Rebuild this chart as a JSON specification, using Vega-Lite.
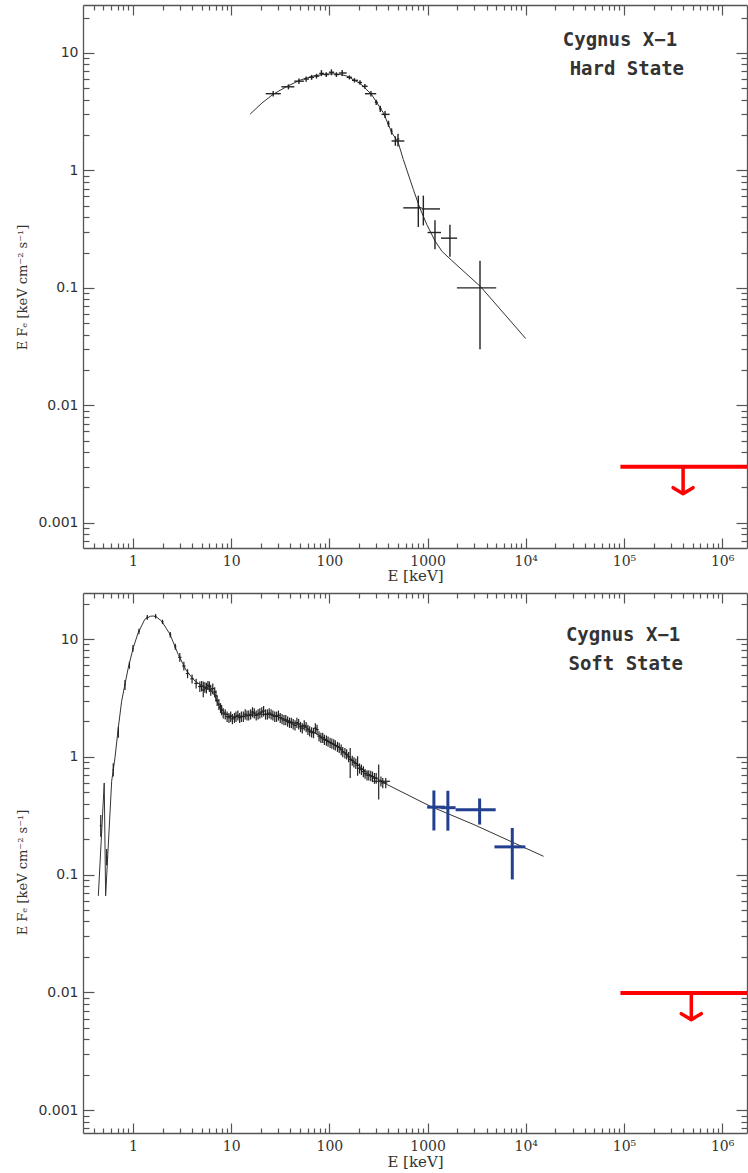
{
"$schema":"https://vega.github.io/schema/vega-lite/v6.json",
"padding":{"left":16,"top":4,"right":0,"bottom":0},
"bounds":"flush",
"spacing":45,
"config":{"view":{"stroke":null},"axis":{"grid":false}},
"datasets":{"d":[
{"p":"h","k":"m","E":15.6,"F":3.01},{"p":"h","k":"m","E":20.6,"F":3.75},{"p":"h","k":"m","E":26.8,"F":4.45},{"p":"h","k":"m","E":36.7,"F":5.17},{"p":"h","k":"m","E":50.1,"F":5.86},{"p":"h","k":"m","E":68.5,"F":6.37},{"p":"h","k":"m","E":90,"F":6.6},{"p":"h","k":"m","E":109.5,"F":6.65},{"p":"h","k":"m","E":130,"F":6.55},{"p":"h","k":"m","E":150,"F":6.37},{"p":"h","k":"m","E":205,"F":5.52},{"p":"h","k":"m","E":268,"F":4.45},{"p":"h","k":"m","E":354,"F":3.1},{"p":"h","k":"m","E":432,"F":2.1},{"p":"h","k":"m","E":502,"F":1.73},{"p":"h","k":"m","E":566,"F":1.24},{"p":"h","k":"m","E":716,"F":0.69},{"p":"h","k":"m","E":833,"F":0.48},{"p":"h","k":"m","E":980,"F":0.348},{"p":"h","k":"m","E":1190,"F":0.251},{"p":"h","k":"m","E":1400,"F":0.205},{"p":"h","k":"m","E":1750,"F":0.172},{"p":"h","k":"m","E":3480,"F":0.102},{"p":"h","k":"m","E":10000,"F":0.037},
{"p":"h","k":"d","E":26.8,"F":4.5,"E1":22.5,"E2":32,"F1":4.25,"F2":4.75},
{"p":"h","k":"d","E":38.3,"F":5.15,"E1":32.5,"E2":44,"F1":4.9,"F2":5.4},
{"p":"h","k":"d","E":49,"F":5.75,"E1":44,"E2":55,"F1":5.45,"F2":6.05},
{"p":"h","k":"d","E":58,"F":6.0,"E1":55,"E2":62,"F1":5.7,"F2":6.3},
{"p":"h","k":"d","E":66,"F":6.2,"E1":62,"E2":70,"F1":5.9,"F2":6.5},
{"p":"h","k":"d","E":74,"F":6.35,"E1":70,"E2":79,"F1":6.05,"F2":6.65},
{"p":"h","k":"d","E":83,"F":6.7,"E1":79,"E2":88,"F1":6.35,"F2":7.15},
{"p":"h","k":"d","E":93,"F":6.55,"E1":88,"E2":99,"F1":6.25,"F2":6.85},
{"p":"h","k":"d","E":105,"F":6.85,"E1":99,"E2":112,"F1":6.45,"F2":7.25},
{"p":"h","k":"d","E":118,"F":6.55,"E1":112,"E2":125,"F1":6.25,"F2":6.85},
{"p":"h","k":"d","E":135,"F":6.75,"E1":125,"E2":150,"F1":6.35,"F2":7.15},
{"p":"h","k":"d","E":160,"F":6.2,"E1":150,"E2":170,"F1":5.95,"F2":6.45},
{"p":"h","k":"d","E":180,"F":5.85,"E1":170,"E2":195,"F1":5.6,"F2":6.1},
{"p":"h","k":"d","E":205,"F":5.6,"E1":195,"E2":215,"F1":5.35,"F2":5.85},
{"p":"h","k":"d","E":230,"F":5.2,"E1":215,"E2":245,"F1":4.95,"F2":5.45},
{"p":"h","k":"d","E":265,"F":4.5,"E1":230,"E2":300,"F1":4.25,"F2":4.75},
{"p":"h","k":"d","E":300,"F":3.8,"E1":290,"E2":312,"F1":3.6,"F2":4.0},
{"p":"h","k":"d","E":330,"F":3.35,"E1":320,"E2":340,"F1":3.15,"F2":3.55},
{"p":"h","k":"d","E":369,"F":3.0,"E1":340,"E2":410,"F1":2.8,"F2":3.2},
{"p":"h","k":"d","E":400,"F":2.5,"E1":390,"E2":410,"F1":2.35,"F2":2.65},
{"p":"h","k":"d","E":430,"F":2.15,"E1":420,"E2":440,"F1":2.02,"F2":2.28},
{"p":"h","k":"d","E":470,"F":1.78,"E1":430,"E2":580,"F1":1.62,"F2":1.95},
{"p":"h","k":"d","E":500,"F":1.85,"E1":490,"E2":515,"F1":1.6,"F2":2.05},
{"p":"h","k":"d","E":805,"F":0.48,"E1":566,"E2":870,"F1":0.33,"F2":0.61},
{"p":"h","k":"d","E":906,"F":0.47,"E1":870,"E2":1340,"F1":0.34,"F2":0.61},
{"p":"h","k":"d","E":1190,"F":0.296,"E1":1000,"E2":1370,"F1":0.213,"F2":0.377},
{"p":"h","k":"d","E":1690,"F":0.265,"E1":1370,"E2":2000,"F1":0.184,"F2":0.344},
{"p":"h","k":"d","E":3420,"F":0.1,"E1":1990,"E2":5000,"F1":0.03,"F2":0.17},
{"p":"h","k":"u","E":400000,"F":0.003,"E1":92000,"E2":1790000,"Ft":0.00177},
{"p":"h","k":"t","E":91000,"F":12.9,"label":"Cygnus X\u22121"},
{"p":"h","k":"t","E":107000,"F":7.3,"label":"Hard State"},
{"p":"s","k":"m","E":0.444,"F":0.066},{"p":"s","k":"m","E":0.51,"F":0.6},{"p":"s","k":"m","E":0.527,"F":0.066},{"p":"s","k":"m","E":0.607,"F":0.62},{"p":"s","k":"m","E":0.656,"F":0.98},{"p":"s","k":"m","E":0.709,"F":1.76},{"p":"s","k":"m","E":0.767,"F":2.97},{"p":"s","k":"m","E":0.829,"F":4.12},{"p":"s","k":"m","E":0.896,"F":5.7},{"p":"s","k":"m","E":1.007,"F":8.44},{"p":"s","k":"m","E":1.13,"F":11.3},{"p":"s","k":"m","E":1.32,"F":14.7},{"p":"s","k":"m","E":1.5,"F":15.6},{"p":"s","k":"m","E":1.61,"F":15.7},{"p":"s","k":"m","E":1.75,"F":15.3},{"p":"s","k":"m","E":1.96,"F":14.2},{"p":"s","k":"m","E":2.38,"F":11.0},{"p":"s","k":"m","E":2.89,"F":7.41},{"p":"s","k":"m","E":3.38,"F":5.7},{"p":"s","k":"m","E":3.52,"F":5.35},{"p":"s","k":"m","E":4.28,"F":4.4},{"p":"s","k":"m","E":4.8,"F":4.12},{"p":"s","k":"m","E":5.41,"F":3.8},{"p":"s","k":"m","E":6.08,"F":3.75},{"p":"s","k":"m","E":6.8,"F":3.3},{"p":"s","k":"m","E":7.7,"F":2.6},{"p":"s","k":"m","E":9.0,"F":2.3},{"p":"s","k":"m","E":10.5,"F":2.2},{"p":"s","k":"m","E":14.4,"F":2.22},{"p":"s","k":"m","E":19.6,"F":2.3},{"p":"s","k":"m","E":26.9,"F":2.27},{"p":"s","k":"m","E":39.6,"F":2.01},{"p":"s","k":"m","E":58.6,"F":1.76},{"p":"s","k":"m","E":86.6,"F":1.45},{"p":"s","k":"m","E":128,"F":1.19},{"p":"s","k":"m","E":176,"F":0.92},{"p":"s","k":"m","E":259,"F":0.7},{"p":"s","k":"m","E":318,"F":0.64},{"p":"s","k":"m","E":390,"F":0.58},{"p":"s","k":"m","E":1070,"F":0.38},{"p":"s","k":"m","E":2960,"F":0.266},{"p":"s","k":"m","E":7580,"F":0.186},{"p":"s","k":"m","E":15200,"F":0.143},
{"p":"s","k":"d","E":0.47,"F":0.26,"E1":0.46,"E2":0.48,"F1":0.21,"F2":0.32},
{"p":"s","k":"d","E":0.54,"F":0.14,"E1":0.53,"E2":0.55,"F1":0.12,"F2":0.165},
{"p":"s","k":"d","E":0.63,"F":0.78,"E1":0.62,"E2":0.64,"F1":0.68,"F2":0.88},
{"p":"s","k":"d","E":0.71,"F":1.62,"E1":0.7,"E2":0.72,"F1":1.45,"F2":1.8},
{"p":"s","k":"d","E":0.83,"F":4.1,"E1":0.82,"E2":0.84,"F1":3.7,"F2":4.5},
{"p":"s","k":"d","E":0.92,"F":6.0,"E1":0.91,"E2":0.93,"F1":5.6,"F2":6.4},
{"p":"s","k":"d","E":1.0,"F":8.3,"E1":0.99,"E2":1.01,"F1":7.8,"F2":8.9},
{"p":"s","k":"d","E":1.15,"F":11.6,"E1":1.13,"E2":1.17,"F1":11.0,"F2":12.2},
{"p":"s","k":"d","E":1.4,"F":15.3,"E1":1.37,"E2":1.43,"F1":14.6,"F2":16.0},
{"p":"s","k":"d","E":1.7,"F":15.6,"E1":1.66,"E2":1.74,"F1":14.9,"F2":16.3},
{"p":"s","k":"d","E":2.0,"F":14.0,"E1":1.95,"E2":2.05,"F1":13.4,"F2":14.6},
{"p":"s","k":"d","E":2.4,"F":10.9,"E1":2.34,"E2":2.46,"F1":10.3,"F2":11.5},
{"p":"s","k":"d","E":2.7,"F":8.6,"E1":2.63,"E2":2.77,"F1":8.1,"F2":9.1},
{"p":"s","k":"d","E":3.0,"F":7.0,"E1":2.88,"E2":3.12,"F1":6.4,"F2":7.6},
{"p":"s","k":"d","E":3.3,"F":5.9,"E1":3.17,"E2":3.43,"F1":5.4,"F2":6.4},
{"p":"s","k":"d","E":3.6,"F":5.1,"E1":3.46,"E2":3.74,"F1":4.65,"F2":5.55},
{"p":"s","k":"d","E":4.0,"F":4.6,"E1":3.84,"E2":4.16,"F1":4.2,"F2":5.0},
{"p":"s","k":"d","E":4.4,"F":4.2,"E1":4.22,"E2":4.58,"F1":3.8,"F2":4.6},
{"p":"s","k":"d","E":4.8,"F":3.95,"E1":4.61,"E2":4.99,"F1":3.55,"F2":4.35},
{"p":"s","k":"d","E":5.0,"F":4.0,"E1":4.8,"E2":5.2,"F1":3.6,"F2":4.4},
{"p":"s","k":"d","E":5.2,"F":3.7,"E1":4.99,"E2":5.41,"F1":3.2,"F2":4.36},
{"p":"s","k":"d","E":5.4,"F":3.9,"E1":5.18,"E2":5.62,"F1":3.5,"F2":4.3},
{"p":"s","k":"d","E":5.6,"F":3.85,"E1":5.38,"E2":5.82,"F1":3.45,"F2":4.25},
{"p":"s","k":"d","E":5.8,"F":4.05,"E1":5.57,"E2":6.03,"F1":3.7,"F2":4.4},
{"p":"s","k":"d","E":6.0,"F":3.95,"E1":5.76,"E2":6.24,"F1":3.55,"F2":4.35},
{"p":"s","k":"d","E":6.2,"F":3.7,"E1":5.95,"E2":6.45,"F1":3.3,"F2":4.1},
{"p":"s","k":"d","E":6.5,"F":3.8,"E1":6.24,"E2":6.76,"F1":3.4,"F2":4.2},
{"p":"s","k":"d","E":6.8,"F":3.55,"E1":6.53,"E2":7.07,"F1":3.2,"F2":3.9},
{"p":"s","k":"d","E":7.0,"F":3.3,"E1":6.72,"E2":7.28,"F1":2.95,"F2":3.65},
{"p":"s","k":"d","E":7.2,"F":3.0,"E1":6.91,"E2":7.49,"F1":2.7,"F2":3.3},
{"p":"s","k":"d","E":7.5,"F":2.8,"E1":7.2,"E2":7.8,"F1":2.5,"F2":3.1},
{"p":"s","k":"d","E":7.8,"F":2.6,"E1":7.49,"E2":8.11,"F1":2.35,"F2":2.85},
{"p":"s","k":"d","E":8.0,"F":2.5,"E1":7.68,"E2":8.32,"F1":2.25,"F2":2.75},
{"p":"s","k":"d","E":8.3,"F":2.35,"E1":7.97,"E2":8.63,"F1":2.12,"F2":2.58},
{"p":"s","k":"d","E":8.7,"F":2.3,"E1":8.35,"E2":9.05,"F1":2.07,"F2":2.53},
{"p":"s","k":"d","E":9.1,"F":2.2,"E1":8.74,"E2":9.46,"F1":1.98,"F2":2.42},
{"p":"s","k":"d","E":9.5,"F":2.15,"E1":9.12,"E2":9.88,"F1":1.94,"F2":2.36},
{"p":"s","k":"d","E":9.9,"F":2.2,"E1":9.5,"E2":10.3,"F1":1.98,"F2":2.42},
{"p":"s","k":"d","E":10.3,"F":2.1,"E1":9.89,"E2":10.71,"F1":1.89,"F2":2.31},
{"p":"s","k":"d","E":10.8,"F":2.15,"E1":10.37,"E2":11.23,"F1":1.94,"F2":2.36},
{"p":"s","k":"d","E":11.2,"F":2.2,"E1":10.75,"E2":11.65,"F1":1.98,"F2":2.42},
{"p":"s","k":"d","E":11.7,"F":2.25,"E1":11.23,"E2":12.17,"F1":2.03,"F2":2.47},
{"p":"s","k":"d","E":12.2,"F":2.15,"E1":11.71,"E2":12.69,"F1":1.94,"F2":2.36},
{"p":"s","k":"d","E":12.7,"F":2.2,"E1":12.19,"E2":13.21,"F1":1.98,"F2":2.42},
{"p":"s","k":"d","E":13.3,"F":2.2,"E1":12.77,"E2":13.83,"F1":1.98,"F2":2.42},
{"p":"s","k":"d","E":13.9,"F":2.3,"E1":13.34,"E2":14.46,"F1":2.07,"F2":2.53},
{"p":"s","k":"d","E":14.5,"F":2.25,"E1":13.92,"E2":15.08,"F1":2.03,"F2":2.47},
{"p":"s","k":"d","E":15.1,"F":2.25,"E1":14.5,"E2":15.7,"F1":2.03,"F2":2.47},
{"p":"s","k":"d","E":15.8,"F":2.3,"E1":15.17,"E2":16.43,"F1":2.07,"F2":2.53},
{"p":"s","k":"d","E":16.5,"F":2.4,"E1":15.84,"E2":17.16,"F1":2.16,"F2":2.64},
{"p":"s","k":"d","E":17.2,"F":2.35,"E1":16.51,"E2":17.89,"F1":2.12,"F2":2.58},
{"p":"s","k":"d","E":18.0,"F":2.25,"E1":17.28,"E2":18.72,"F1":2.03,"F2":2.47},
{"p":"s","k":"d","E":18.8,"F":2.3,"E1":18.05,"E2":19.55,"F1":2.07,"F2":2.53},
{"p":"s","k":"d","E":19.6,"F":2.35,"E1":18.82,"E2":20.38,"F1":2.12,"F2":2.58},
{"p":"s","k":"d","E":20.5,"F":2.4,"E1":19.68,"E2":21.32,"F1":2.16,"F2":2.64},
{"p":"s","k":"d","E":21.4,"F":2.45,"E1":20.54,"E2":22.26,"F1":2.2,"F2":2.7},
{"p":"s","k":"d","E":22.4,"F":2.3,"E1":21.5,"E2":23.3,"F1":2.07,"F2":2.53},
{"p":"s","k":"d","E":23.4,"F":2.3,"E1":22.46,"E2":24.34,"F1":2.07,"F2":2.53},
{"p":"s","k":"d","E":24.4,"F":2.35,"E1":23.42,"E2":25.38,"F1":2.12,"F2":2.58},
{"p":"s","k":"d","E":25.5,"F":2.3,"E1":24.48,"E2":26.52,"F1":2.07,"F2":2.53},
{"p":"s","k":"d","E":26.6,"F":2.25,"E1":25.54,"E2":27.66,"F1":2.03,"F2":2.47},
{"p":"s","k":"d","E":27.8,"F":2.2,"E1":26.69,"E2":28.91,"F1":1.98,"F2":2.42},
{"p":"s","k":"d","E":29,"F":2.2,"E1":27.84,"E2":30.16,"F1":1.98,"F2":2.42},
{"p":"s","k":"d","E":30.3,"F":2.25,"E1":29.09,"E2":31.51,"F1":2.03,"F2":2.47},
{"p":"s","k":"d","E":31.6,"F":2.15,"E1":30.34,"E2":32.86,"F1":1.94,"F2":2.36},
{"p":"s","k":"d","E":33,"F":2.1,"E1":31.68,"E2":34.32,"F1":1.89,"F2":2.31},
{"p":"s","k":"d","E":34.5,"F":2.05,"E1":33.12,"E2":35.88,"F1":1.85,"F2":2.26},
{"p":"s","k":"d","E":36,"F":2.05,"E1":34.56,"E2":37.44,"F1":1.85,"F2":2.26},
{"p":"s","k":"d","E":37.6,"F":2.0,"E1":36.1,"E2":39.1,"F1":1.8,"F2":2.2},
{"p":"s","k":"d","E":39.3,"F":1.95,"E1":37.73,"E2":40.87,"F1":1.76,"F2":2.15},
{"p":"s","k":"d","E":41,"F":1.95,"E1":39.36,"E2":42.64,"F1":1.76,"F2":2.15},
{"p":"s","k":"d","E":42.8,"F":1.9,"E1":41.09,"E2":44.51,"F1":1.71,"F2":2.09},
{"p":"s","k":"d","E":44.7,"F":1.85,"E1":42.91,"E2":46.49,"F1":1.67,"F2":2.04},
{"p":"s","k":"d","E":46.7,"F":1.95,"E1":44.83,"E2":48.57,"F1":1.76,"F2":2.15},
{"p":"s","k":"d","E":48.7,"F":1.9,"E1":46.75,"E2":50.65,"F1":1.71,"F2":2.09},
{"p":"s","k":"d","E":50.9,"F":1.8,"E1":48.86,"E2":52.94,"F1":1.62,"F2":1.98},
{"p":"s","k":"d","E":53,"F":1.75,"E1":50.88,"E2":55.12,"F1":1.58,"F2":1.93},
{"p":"s","k":"d","E":55.5,"F":1.85,"E1":53.28,"E2":57.72,"F1":1.67,"F2":2.04},
{"p":"s","k":"d","E":58,"F":1.8,"E1":55.68,"E2":60.32,"F1":1.62,"F2":1.98},
{"p":"s","k":"d","E":60.5,"F":1.7,"E1":58.08,"E2":62.92,"F1":1.53,"F2":1.87},
{"p":"s","k":"d","E":63,"F":1.65,"E1":60.48,"E2":65.52,"F1":1.49,"F2":1.82},
{"p":"s","k":"d","E":66,"F":1.62,"E1":63.36,"E2":68.64,"F1":1.46,"F2":1.78},
{"p":"s","k":"d","E":69,"F":1.6,"E1":66.24,"E2":71.76,"F1":1.44,"F2":1.76},
{"p":"s","k":"d","E":72,"F":1.75,"E1":69.12,"E2":74.88,"F1":1.58,"F2":1.93},
{"p":"s","k":"d","E":75,"F":1.7,"E1":72,"E2":78,"F1":1.53,"F2":1.87},
{"p":"s","k":"d","E":78.5,"F":1.5,"E1":75.36,"E2":81.64,"F1":1.35,"F2":1.65},
{"p":"s","k":"d","E":82,"F":1.45,"E1":78.72,"E2":85.28,"F1":1.31,"F2":1.6},
{"p":"s","k":"d","E":85.6,"F":1.45,"E1":82.18,"E2":89.02,"F1":1.31,"F2":1.6},
{"p":"s","k":"d","E":89,"F":1.4,"E1":85.44,"E2":92.56,"F1":1.26,"F2":1.54},
{"p":"s","k":"d","E":93.3,"F":1.38,"E1":89.57,"E2":97.03,"F1":1.24,"F2":1.52},
{"p":"s","k":"d","E":97,"F":1.35,"E1":93.12,"E2":100.88,"F1":1.22,"F2":1.49},
{"p":"s","k":"d","E":101.7,"F":1.32,"E1":97.63,"E2":105.77,"F1":1.19,"F2":1.45},
{"p":"s","k":"d","E":106,"F":1.3,"E1":101.76,"E2":110.24,"F1":1.17,"F2":1.43},
{"p":"s","k":"d","E":110.9,"F":1.28,"E1":106.46,"E2":115.34,"F1":1.15,"F2":1.41},
{"p":"s","k":"d","E":115,"F":1.25,"E1":110.4,"E2":119.6,"F1":1.13,"F2":1.38},
{"p":"s","k":"d","E":121,"F":1.22,"E1":116.16,"E2":125.84,"F1":1.1,"F2":1.34},
{"p":"s","k":"d","E":126,"F":1.2,"E1":120.96,"E2":131.04,"F1":1.08,"F2":1.32},
{"p":"s","k":"d","E":132,"F":1.15,"E1":126.72,"E2":137.28,"F1":1.03,"F2":1.27},
{"p":"s","k":"d","E":137,"F":1.1,"E1":131.5,"E2":142.5,"F1":0.99,"F2":1.21},
{"p":"s","k":"d","E":144,"F":1.08,"E1":138.2,"E2":149.8,"F1":0.97,"F2":1.19},
{"p":"s","k":"d","E":150,"F":1.05,"E1":144,"E2":156,"F1":0.95,"F2":1.16},
{"p":"s","k":"d","E":157,"F":1.0,"E1":150.7,"E2":163.3,"F1":0.9,"F2":1.1},
{"p":"s","k":"d","E":163,"F":0.95,"E1":156.5,"E2":169.5,"F1":0.66,"F2":1.19},
{"p":"s","k":"d","E":171,"F":0.93,"E1":164.2,"E2":177.8,"F1":0.84,"F2":1.02},
{"p":"s","k":"d","E":178,"F":0.9,"E1":170.9,"E2":185.1,"F1":0.81,"F2":0.99},
{"p":"s","k":"d","E":186,"F":0.88,"E1":178.6,"E2":193.4,"F1":0.79,"F2":0.97},
{"p":"s","k":"d","E":194,"F":0.85,"E1":186.2,"E2":201.8,"F1":0.69,"F2":1.01},
{"p":"s","k":"d","E":203,"F":0.8,"E1":194.9,"E2":211.1,"F1":0.72,"F2":0.88},
{"p":"s","k":"d","E":212,"F":0.78,"E1":203.5,"E2":220.5,"F1":0.7,"F2":0.86},
{"p":"s","k":"d","E":222,"F":0.75,"E1":213.1,"E2":230.9,"F1":0.67,"F2":0.83},
{"p":"s","k":"d","E":231,"F":0.72,"E1":221.8,"E2":240.2,"F1":0.65,"F2":0.79},
{"p":"s","k":"d","E":242,"F":0.7,"E1":232.3,"E2":251.7,"F1":0.63,"F2":0.77},
{"p":"s","k":"d","E":252,"F":0.7,"E1":241.9,"E2":262.1,"F1":0.63,"F2":0.77},
{"p":"s","k":"d","E":264,"F":0.69,"E1":253.4,"E2":274.6,"F1":0.62,"F2":0.76},
{"p":"s","k":"d","E":275,"F":0.68,"E1":264,"E2":286,"F1":0.61,"F2":0.75},
{"p":"s","k":"d","E":288,"F":0.66,"E1":276.5,"E2":299.5,"F1":0.59,"F2":0.73},
{"p":"s","k":"d","E":300,"F":0.66,"E1":288,"E2":312,"F1":0.59,"F2":0.73},
{"p":"s","k":"d","E":318,"F":0.62,"E1":280,"E2":415,"F1":0.435,"F2":0.86},
{"p":"s","k":"d","E":335,"F":0.62,"E1":321.6,"E2":348.4,"F1":0.56,"F2":0.68},
{"p":"s","k":"d","E":350,"F":0.6,"E1":336,"E2":364,"F1":0.54,"F2":0.66},
{"p":"s","k":"d","E":375,"F":0.6,"E1":360,"E2":390,"F1":0.54,"F2":0.66},
{"p":"s","k":"b","E":1160,"F":0.374,"E1":990,"E2":1500,"F1":0.237,"F2":0.518},
{"p":"s","k":"b","E":1610,"F":0.37,"E1":1360,"E2":1930,"F1":0.236,"F2":0.515},
{"p":"s","k":"b","E":3390,"F":0.355,"E1":1930,"E2":4940,"F1":0.266,"F2":0.443},
{"p":"s","k":"b","E":7290,"F":0.172,"E1":4800,"E2":9900,"F1":0.091,"F2":0.249},
{"p":"s","k":"u","E":485000,"F":0.0099,"E1":92000,"E2":1790000,"Ft":0.00587},
{"p":"s","k":"t","E":98000,"F":10.8,"label":"Cygnus X\u22121"},
{"p":"s","k":"t","E":104000,"F":6.1,"label":"Soft State"}
]},
"vconcat":[
{"width":664,"height":543,"data":{"name":"d"},"transform":[{"filter":"datum.p=='h'"}],
"resolve":{"axis":{"x":"independent","y":"independent"}},
"layer":[
{"transform":[{"filter":"datum.k=='m'"}],"mark":{"type":"line","color":"#333","strokeWidth":1,"clip":true},
"encoding":{"x":{"field":"E","type":"quantitative","scale":{"type":"log","domain":[0.31,1790000],"nice":false},
"axis":{"orient":"bottom","values":[0.4,0.5,0.6,0.7,0.8,0.9,1,2,3,4,5,6,7,8,9,10,20,30,40,50,60,70,80,90,100,200,300,400,500,600,700,800,900,1000,2000,3000,4000,5000,6000,7000,8000,9000,10000,20000,30000,40000,50000,60000,70000,80000,90000,100000,200000,300000,400000,500000,600000,700000,800000,900000,1000000],
"labelExpr":"datum.value==1?'1':datum.value==10?'10':datum.value==100?'100':datum.value==1000?'1000':datum.value==10000?'10\u2074':datum.value==100000?'10\u2075':datum.value==1000000?'10\u2076':''",
"labelOverlap":false,"labelFlush":false,"labelBound":false,"labelFont":"DejaVu Serif","labelFontSize":14,"labelColor":"#333","labelPadding":16,"labelBaseline":"top",
"tickSize":{"condition":{"test":"abs(log(datum.value)/LN10-round(log(datum.value)/LN10))<0.001","value":-10},"value":-5},
"tickColor":"#555","tickWidth":1.2,"domainColor":"#555","domainWidth":1.3,"grid":false,
"title":"E [keV]","titleFont":"DejaVu Serif","titleFontSize":15,"titleFontWeight":"normal","titleColor":"#333","titleY":20,"titleBaseline":"top"}},
"y":{"field":"F","type":"quantitative","scale":{"type":"log","domain":[0.00061,25.6],"nice":false},
"axis":{"orient":"left","values":[0.0007,0.0008,0.0009,0.001,0.002,0.003,0.004,0.005,0.006,0.007,0.008,0.009,0.01,0.02,0.03,0.04,0.05,0.06,0.07,0.08,0.09,0.1,0.2,0.3,0.4,0.5,0.6,0.7,0.8,0.9,1,2,3,4,5,6,7,8,9,10,20],
"labelExpr":"datum.value==10?'10':datum.value==1?'1':datum.value==0.1?'0.1':datum.value==0.01?'0.01':datum.value==0.001?'0.001':''",
"labelOverlap":false,"labelFlush":false,"labelBound":false,"labelFont":"DejaVu Sans","labelFontSize":14,"labelColor":"#333","labelPadding":16,
"tickSize":{"condition":{"test":"abs(log(datum.value)/LN10-round(log(datum.value)/LN10))<0.001","value":-11},"value":-6},
"tickColor":"#555","tickWidth":1.2,"domainColor":"#555","domainWidth":1.3,"grid":false,
"title":"E F\u2091 [keV cm\u207b\u00b2 s\u207b\u00b9]","titleFont":"DejaVu Serif","titleFontSize":13,"titleFontWeight":"normal","titleColor":"#333","titleX":-61,"titleY":282,"titleAngle":270,"titleBaseline":"middle","titleAlign":"center"}}}},
{"transform":[{"filter":"datum.k=='d'"}],"mark":{"type":"rule","color":"#222","strokeWidth":1.4},
"encoding":{"x":{"field":"E","type":"quantitative","scale":{"type":"log","domain":[0.31,1790000],"nice":false},
"axis":{"orient":"top","values":[0.4,0.5,0.6,0.7,0.8,0.9,1,2,3,4,5,6,7,8,9,10,20,30,40,50,60,70,80,90,100,200,300,400,500,600,700,800,900,1000,2000,3000,4000,5000,6000,7000,8000,9000,10000,20000,30000,40000,50000,60000,70000,80000,90000,100000,200000,300000,400000,500000,600000,700000,800000,900000,1000000],"labels":false,"title":null,
"tickSize":{"condition":{"test":"abs(log(datum.value)/LN10-round(log(datum.value)/LN10))<0.001","value":-10},"value":-5},"tickColor":"#555","tickWidth":1.2,"domainColor":"#555","domainWidth":1.3,"grid":false}},
"y":{"field":"F1","type":"quantitative","scale":{"type":"log","domain":[0.00061,25.6],"nice":false},
"axis":{"orient":"right","values":[0.0007,0.0008,0.0009,0.001,0.002,0.003,0.004,0.005,0.006,0.007,0.008,0.009,0.01,0.02,0.03,0.04,0.05,0.06,0.07,0.08,0.09,0.1,0.2,0.3,0.4,0.5,0.6,0.7,0.8,0.9,1,2,3,4,5,6,7,8,9,10,20],"labels":false,"title":null,
"tickSize":{"condition":{"test":"abs(log(datum.value)/LN10-round(log(datum.value)/LN10))<0.001","value":-11},"value":-6},"tickColor":"#555","tickWidth":1.2,"domainColor":"#555","domainWidth":1.3,"grid":false}},
"y2":{"field":"F2"}}},
{"transform":[{"filter":"datum.k=='d'"}],"mark":{"type":"rule","color":"#222","strokeWidth":1.4},
"encoding":{"x":{"field":"E1","type":"quantitative","scale":{"type":"log","domain":[0.31,1790000],"nice":false},"axis":null},"x2":{"field":"E2"},
"y":{"field":"F","type":"quantitative","scale":{"type":"log","domain":[0.00061,25.6],"nice":false},"axis":null}}},
{"transform":[{"filter":"datum.k=='u'"}],"mark":{"type":"rule","color":"#ff0000","strokeWidth":4,"clip":true},
"encoding":{"x":{"field":"E1","type":"quantitative","scale":{"type":"log","domain":[0.31,1790000],"nice":false},"axis":null},"x2":{"field":"E2"},
"y":{"field":"F","type":"quantitative","scale":{"type":"log","domain":[0.00061,25.6],"nice":false},"axis":null}}},
{"transform":[{"filter":"datum.k=='u'"}],"mark":{"type":"rule","color":"#ff0000","strokeWidth":3.5},
"encoding":{"x":{"field":"E","type":"quantitative","scale":{"type":"log","domain":[0.31,1790000],"nice":false},"axis":null},
"y":{"field":"F","type":"quantitative","scale":{"type":"log","domain":[0.00061,25.6],"nice":false},"axis":null},"y2":{"field":"Ft"}}},
{"transform":[{"filter":"datum.k=='u'"}],"mark":{"type":"point","shape":"M-1,-0.6L0,0L1,-0.6","filled":false,"color":"#ff0000","strokeWidth":3.5,"size":400,"opacity":1,"strokeCap":"round","strokeJoin":"round"},
"encoding":{"x":{"field":"E","type":"quantitative","scale":{"type":"log","domain":[0.31,1790000],"nice":false},"axis":null},
"y":{"field":"Ft","type":"quantitative","scale":{"type":"log","domain":[0.00061,25.6],"nice":false},"axis":null}}},
{"transform":[{"filter":"datum.k=='t'"}],"mark":{"type":"text","font":"DejaVu Sans Mono","fontWeight":"bold","fontSize":19,"color":"#333","align":"center","baseline":"middle"},
"encoding":{"x":{"field":"E","type":"quantitative","scale":{"type":"log","domain":[0.31,1790000],"nice":false},"axis":null},
"y":{"field":"F","type":"quantitative","scale":{"type":"log","domain":[0.00061,25.6],"nice":false},"axis":null},"text":{"field":"label"}}}
]},
{"width":664,"height":540,"data":{"name":"d"},"transform":[{"filter":"datum.p=='s'"}],
"resolve":{"axis":{"x":"independent","y":"independent"}},
"layer":[
{"transform":[{"filter":"datum.k=='m'"}],"mark":{"type":"line","color":"#333","strokeWidth":1,"clip":true},
"encoding":{"x":{"field":"E","type":"quantitative","scale":{"type":"log","domain":[0.31,1790000],"nice":false},
"axis":{"orient":"bottom","values":[0.4,0.5,0.6,0.7,0.8,0.9,1,2,3,4,5,6,7,8,9,10,20,30,40,50,60,70,80,90,100,200,300,400,500,600,700,800,900,1000,2000,3000,4000,5000,6000,7000,8000,9000,10000,20000,30000,40000,50000,60000,70000,80000,90000,100000,200000,300000,400000,500000,600000,700000,800000,900000,1000000],
"labelExpr":"datum.value==1?'1':datum.value==10?'10':datum.value==100?'100':datum.value==1000?'1000':datum.value==10000?'10\u2074':datum.value==100000?'10\u2075':datum.value==1000000?'10\u2076':''",
"labelOverlap":false,"labelFlush":false,"labelBound":false,"labelFont":"DejaVu Serif","labelFontSize":14,"labelColor":"#333","labelPadding":16,"labelBaseline":"top",
"tickSize":{"condition":{"test":"abs(log(datum.value)/LN10-round(log(datum.value)/LN10))<0.001","value":-10},"value":-5},
"tickColor":"#555","tickWidth":1.2,"domainColor":"#555","domainWidth":1.3,"grid":false,
"title":"E [keV]","titleFont":"DejaVu Serif","titleFontSize":15,"titleFontWeight":"normal","titleColor":"#333","titleY":21,"titleBaseline":"top"}},
"y":{"field":"F","type":"quantitative","scale":{"type":"log","domain":[0.00064,24.6],"nice":false},
"axis":{"orient":"left","values":[0.0007,0.0008,0.0009,0.001,0.002,0.003,0.004,0.005,0.006,0.007,0.008,0.009,0.01,0.02,0.03,0.04,0.05,0.06,0.07,0.08,0.09,0.1,0.2,0.3,0.4,0.5,0.6,0.7,0.8,0.9,1,2,3,4,5,6,7,8,9,10,20],
"labelExpr":"datum.value==10?'10':datum.value==1?'1':datum.value==0.1?'0.1':datum.value==0.01?'0.01':datum.value==0.001?'0.001':''",
"labelOverlap":false,"labelFlush":false,"labelBound":false,"labelFont":"DejaVu Sans","labelFontSize":14,"labelColor":"#333","labelPadding":16,
"tickSize":{"condition":{"test":"abs(log(datum.value)/LN10-round(log(datum.value)/LN10))<0.001","value":-11},"value":-6},
"tickColor":"#555","tickWidth":1.2,"domainColor":"#555","domainWidth":1.3,"grid":false,
"title":"E F\u2091 [keV cm\u207b\u00b2 s\u207b\u00b9]","titleFont":"DejaVu Serif","titleFontSize":13,"titleFontWeight":"normal","titleColor":"#333","titleX":-61,"titleY":279,"titleAngle":270,"titleBaseline":"middle","titleAlign":"center"}}}},
{"transform":[{"filter":"datum.k=='d'"}],"mark":{"type":"rule","color":"#222","strokeWidth":1.2},
"encoding":{"x":{"field":"E","type":"quantitative","scale":{"type":"log","domain":[0.31,1790000],"nice":false},
"axis":{"orient":"top","values":[0.4,0.5,0.6,0.7,0.8,0.9,1,2,3,4,5,6,7,8,9,10,20,30,40,50,60,70,80,90,100,200,300,400,500,600,700,800,900,1000,2000,3000,4000,5000,6000,7000,8000,9000,10000,20000,30000,40000,50000,60000,70000,80000,90000,100000,200000,300000,400000,500000,600000,700000,800000,900000,1000000],"labels":false,"title":null,
"tickSize":{"condition":{"test":"abs(log(datum.value)/LN10-round(log(datum.value)/LN10))<0.001","value":-10},"value":-5},"tickColor":"#555","tickWidth":1.2,"domainColor":"#555","domainWidth":1.3,"grid":false}},
"y":{"field":"F1","type":"quantitative","scale":{"type":"log","domain":[0.00064,24.6],"nice":false},
"axis":{"orient":"right","values":[0.0007,0.0008,0.0009,0.001,0.002,0.003,0.004,0.005,0.006,0.007,0.008,0.009,0.01,0.02,0.03,0.04,0.05,0.06,0.07,0.08,0.09,0.1,0.2,0.3,0.4,0.5,0.6,0.7,0.8,0.9,1,2,3,4,5,6,7,8,9,10,20],"labels":false,"title":null,
"tickSize":{"condition":{"test":"abs(log(datum.value)/LN10-round(log(datum.value)/LN10))<0.001","value":-11},"value":-6},"tickColor":"#555","tickWidth":1.2,"domainColor":"#555","domainWidth":1.3,"grid":false}},
"y2":{"field":"F2"}}},
{"transform":[{"filter":"datum.k=='d'"}],"mark":{"type":"rule","color":"#222","strokeWidth":1.2},
"encoding":{"x":{"field":"E1","type":"quantitative","scale":{"type":"log","domain":[0.31,1790000],"nice":false},"axis":null},"x2":{"field":"E2"},
"y":{"field":"F","type":"quantitative","scale":{"type":"log","domain":[0.00064,24.6],"nice":false},"axis":null}}},
{"transform":[{"filter":"datum.k=='b'"}],"mark":{"type":"rule","color":"#22408f","strokeWidth":3},
"encoding":{"x":{"field":"E","type":"quantitative","scale":{"type":"log","domain":[0.31,1790000],"nice":false},"axis":null},
"y":{"field":"F1","type":"quantitative","scale":{"type":"log","domain":[0.00064,24.6],"nice":false},"axis":null},"y2":{"field":"F2"}}},
{"transform":[{"filter":"datum.k=='b'"}],"mark":{"type":"rule","color":"#22408f","strokeWidth":3},
"encoding":{"x":{"field":"E1","type":"quantitative","scale":{"type":"log","domain":[0.31,1790000],"nice":false},"axis":null},"x2":{"field":"E2"},
"y":{"field":"F","type":"quantitative","scale":{"type":"log","domain":[0.00064,24.6],"nice":false},"axis":null}}},
{"transform":[{"filter":"datum.k=='u'"}],"mark":{"type":"rule","color":"#ff0000","strokeWidth":4,"clip":true},
"encoding":{"x":{"field":"E1","type":"quantitative","scale":{"type":"log","domain":[0.31,1790000],"nice":false},"axis":null},"x2":{"field":"E2"},
"y":{"field":"F","type":"quantitative","scale":{"type":"log","domain":[0.00064,24.6],"nice":false},"axis":null}}},
{"transform":[{"filter":"datum.k=='u'"}],"mark":{"type":"rule","color":"#ff0000","strokeWidth":3.5},
"encoding":{"x":{"field":"E","type":"quantitative","scale":{"type":"log","domain":[0.31,1790000],"nice":false},"axis":null},
"y":{"field":"F","type":"quantitative","scale":{"type":"log","domain":[0.00064,24.6],"nice":false},"axis":null},"y2":{"field":"Ft"}}},
{"transform":[{"filter":"datum.k=='u'"}],"mark":{"type":"point","shape":"M-1,-0.6L0,0L1,-0.6","filled":false,"color":"#ff0000","strokeWidth":3.5,"size":400,"opacity":1,"strokeCap":"round","strokeJoin":"round"},
"encoding":{"x":{"field":"E","type":"quantitative","scale":{"type":"log","domain":[0.31,1790000],"nice":false},"axis":null},
"y":{"field":"Ft","type":"quantitative","scale":{"type":"log","domain":[0.00064,24.6],"nice":false},"axis":null}}},
{"transform":[{"filter":"datum.k=='t'"}],"mark":{"type":"text","font":"DejaVu Sans Mono","fontWeight":"bold","fontSize":19,"color":"#333","align":"center","baseline":"middle"},
"encoding":{"x":{"field":"E","type":"quantitative","scale":{"type":"log","domain":[0.31,1790000],"nice":false},"axis":null},
"y":{"field":"F","type":"quantitative","scale":{"type":"log","domain":[0.00064,24.6],"nice":false},"axis":null},"text":{"field":"label"}}}
]}
]
}
